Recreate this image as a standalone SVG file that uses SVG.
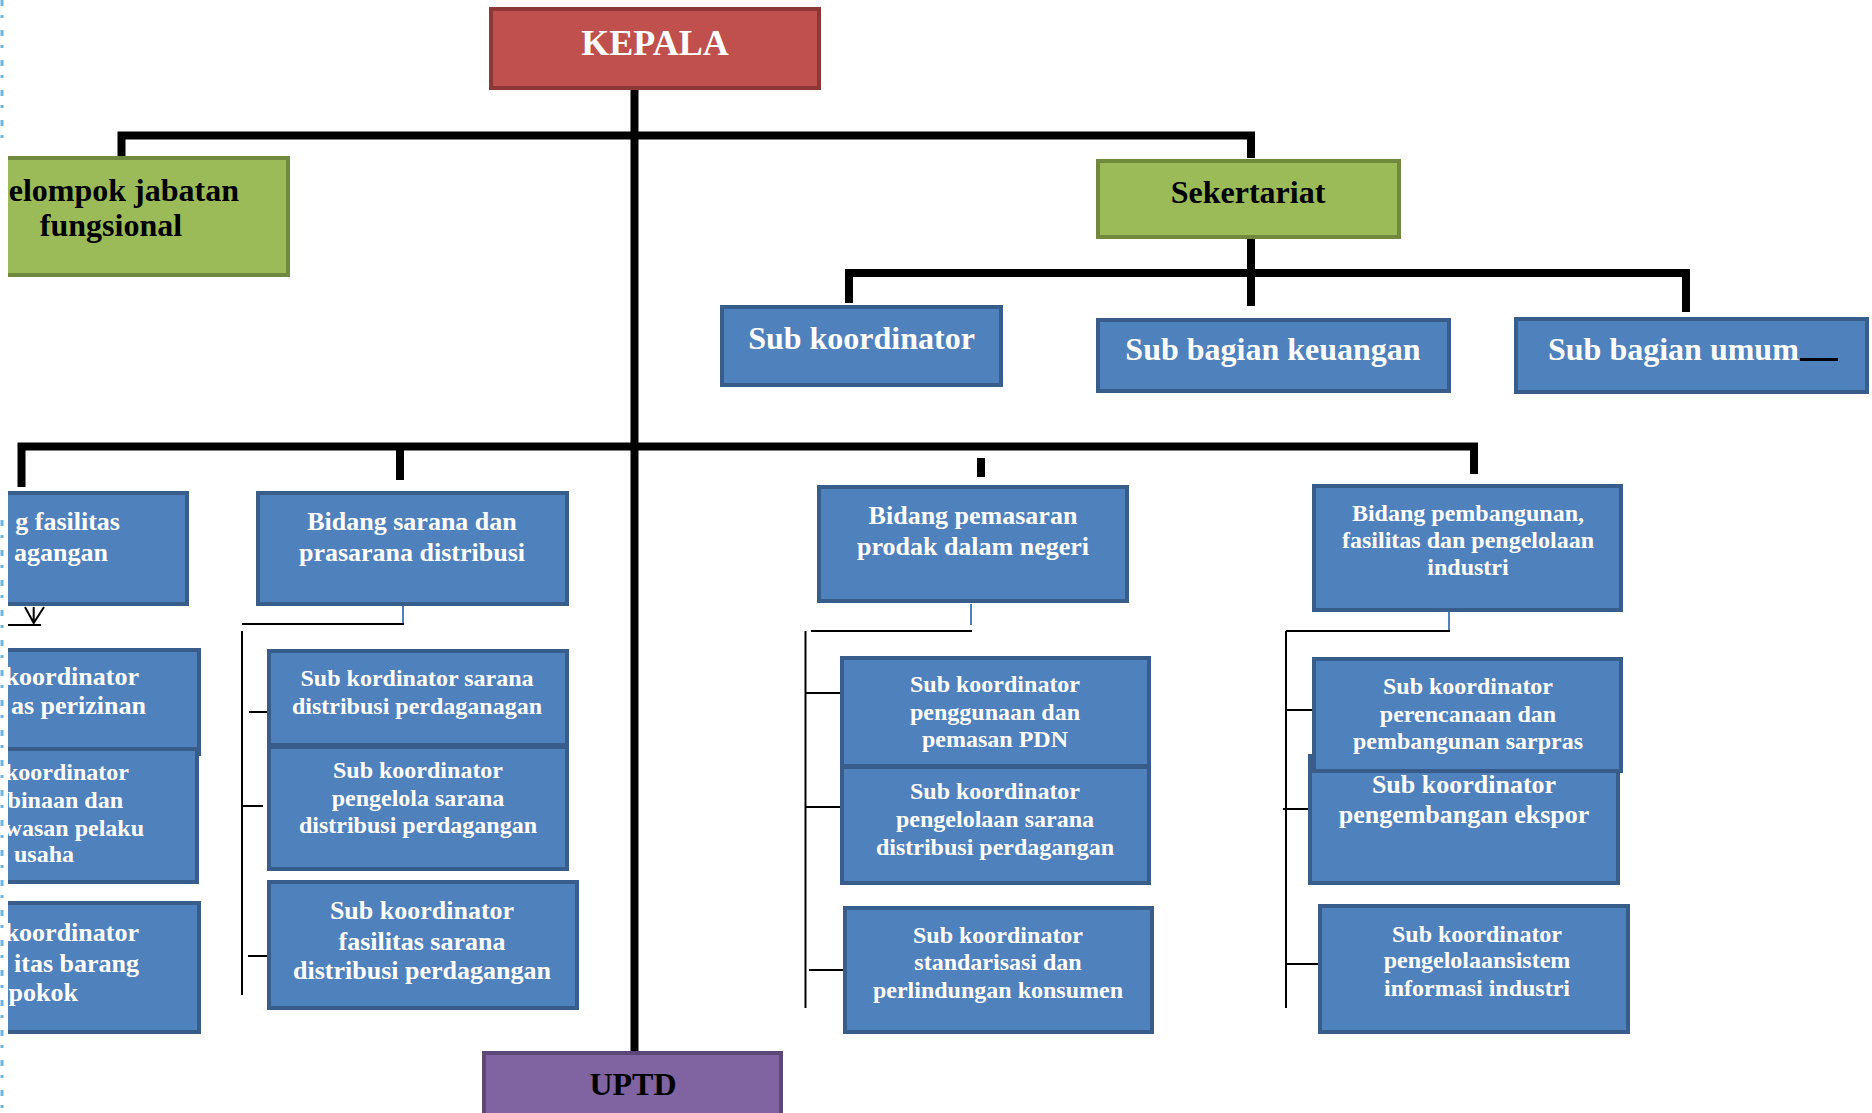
<svg xmlns="http://www.w3.org/2000/svg" width="1872" height="1113" viewBox="0 0 1872 1113">
<style>
.bb{fill:#4f81bd;stroke:#385d8a;stroke-width:4}
.bg{fill:#9bbb59;stroke:#71893f;stroke-width:4}
.br{fill:#c0504d;stroke:#8c3836;stroke-width:4}
.bp{fill:#8064a2;stroke:#5c4776;stroke-width:4}
text{font-family:"Liberation Serif","Times New Roman",serif;font-weight:bold}
.w{fill:#ffffff}
.k{fill:#000000}
.c{text-anchor:middle}
.e{text-anchor:end}
.f36{font-size:36px}
.f32{font-size:32px}
.f26{font-size:26px}
.f24{font-size:24px}
.thick{stroke:#000;stroke-width:8;fill:none;stroke-linejoin:miter;stroke-linecap:butt}
.thin{stroke:#000;stroke-width:2;fill:none}
.blue{stroke:#4f81bd;stroke-width:2;fill:none}
</style>
<defs>
<clipPath id="cut"><rect x="8" y="0" width="1864" height="1113"/></clipPath>
</defs>
<rect x="0" y="0" width="1872" height="1113" fill="#ffffff"/>
<path d="M2,0 V150 M2,520 V1113" stroke="#6ab4e6" stroke-width="3" stroke-dasharray="6 9 3 12" fill="none"/>

<g id="connectors">
<path class="thick" d="M634.5,88 V1052"/>
<path class="thick" d="M121.5,158 V135.5 H1251 V158"/>
<path class="thick" d="M1251,239 V306"/>
<path class="thick" d="M849,303 V273 H1686 V312"/>
<path class="thick" d="M21.5,487 V446.5 H1474 V474"/>
<path class="thick" d="M400,446 V480"/>
<path class="thick" d="M981,458 V477"/>
<g clip-path="url(#cut)">
<path class="thin" d="M25,607 L33.7,623 L44,607 M33.7,607 V623 M8,625 H41"/>
</g>
<path class="blue" d="M403,606 V624"/>
<path class="thin" d="M242,624 H404 M242,631 V995 M249,712 H270 M242,806 H263 M248,956 H274"/>
<path class="blue" d="M971,604 V625"/>
<path class="thin" d="M811,631 H972 M805.5,631 V1008 M805,693 H846 M805,807 H846 M809,970 H850"/>
<path class="blue" d="M1449,610 V631"/>
<path class="thin" d="M1286,631 H1450 M1286,631 V1008 M1286,710 H1327 M1283,809 H1324 M1286,964 H1326"/>
</g>

<g id="kepala">
<rect class="br" x="491" y="9" width="328" height="79"/>
<text class="w c f36" x="655" y="55">KEPALA</text>
</g>

<g id="kelompok" clip-path="url(#cut)">
<rect class="bg" x="-8" y="158" width="296" height="117"/>
<text class="k e f32" x="239" y="201">elompok jabatan</text>
<text class="k c f32" x="111" y="236">fungsional</text>
</g>

<g id="sekertariat">
<rect class="bg" x="1098" y="161" width="301" height="76"/>
<text class="k c f32" x="1248" y="203">Sekertariat</text>
</g>

<g id="sub-koordinator">
<rect class="bb" x="722" y="307" width="279" height="78"/>
<text class="w c f32" x="861.5" y="349">Sub koordinator</text>
</g>

<g id="sub-keuangan">
<rect class="bb" x="1098" y="320" width="351" height="71"/>
<text class="w c f32" x="1273" y="360">Sub bagian keuangan</text>
</g>

<g id="sub-umum">
<rect class="bb" x="1516" y="319" width="351" height="73"/>
<text class="w f32" x="1548" y="360">Sub bagian umum</text>
<path d="M1800,359.5 H1838" stroke="#000" stroke-width="3"/>
</g>

<g id="bidang-fasilitas" clip-path="url(#cut)">
<rect class="bb" x="-98" y="493" width="285" height="111"/>
<text class="w e f26" x="120" y="530">g fasilitas</text>
<text class="w e f26" x="108" y="561">agangan</text>
</g>

<g id="sub-perizinan" clip-path="url(#cut)">
<rect class="bb" x="-98" y="650" width="297" height="104"/>
<text class="w e f26" x="139" y="685">koordinator</text>
<text class="w e f26" x="146" y="714">as perizinan</text>
</g>

<g id="sub-pembinaan" clip-path="url(#cut)">
<rect class="bb" x="-98" y="749" width="295" height="133"/>
<text class="w e f24" x="129" y="780">koordinator</text>
<text class="w e f24" x="123" y="808">binaan dan</text>
<text class="w e f24" x="144" y="835.5">wasan pelaku</text>
<text class="w e f24" x="74" y="862">usaha</text>
</g>

<g id="sub-barang-pokok" clip-path="url(#cut)">
<rect class="bb" x="-98" y="903" width="297" height="129"/>
<text class="w e f26" x="139" y="941">koordinator</text>
<text class="w e f26" x="139" y="972">itas barang</text>
<text class="w e f26" x="78" y="1001">pokok</text>
</g>

<g id="bidang-sarana">
<rect class="bb" x="258" y="493" width="309" height="111"/>
<text class="w c f26" x="412" y="530">Bidang sarana dan</text>
<text class="w c f26" x="412" y="561">prasarana distribusi</text>
</g>

<g id="sub-sarana-1">
<rect class="bb" x="269" y="651" width="298" height="94"/>
<text class="w c f24" x="417" y="686">Sub kordinator sarana</text>
<text class="w c f24" x="417" y="713.5">distribusi perdaganagan</text>
</g>

<g id="sub-sarana-2">
<rect class="bb" x="269" y="747" width="298" height="122"/>
<text class="w c f24" x="418" y="778">Sub koordinator</text>
<text class="w c f24" x="418" y="805.5">pengelola sarana</text>
<text class="w c f24" x="418" y="833">distribusi perdagangan</text>
</g>

<g id="sub-sarana-3">
<rect class="bb" x="269" y="882" width="308" height="126"/>
<text class="w c f26" x="422" y="919">Sub koordinator</text>
<text class="w c f26" x="422" y="950">fasilitas sarana</text>
<text class="w c f26" x="422" y="979">distribusi perdagangan</text>
</g>

<g id="bidang-pemasaran">
<rect class="bb" x="819" y="487" width="308" height="114"/>
<text class="w c f26" x="973" y="524">Bidang pemasaran</text>
<text class="w c f26" x="973" y="555">prodak dalam negeri</text>
</g>

<g id="sub-pemasaran-2">
<rect class="bb" x="842" y="767" width="307" height="116"/>
<text class="w c f24" x="995" y="799">Sub koordinator</text>
<text class="w c f24" x="995" y="827">pengelolaan sarana</text>
<text class="w c f24" x="995" y="854.5">distribusi perdagangan</text>
</g>

<g id="sub-pemasaran-1">
<rect class="bb" x="842" y="658" width="307" height="108"/>
<text class="w c f24" x="995" y="692">Sub koordinator</text>
<text class="w c f24" x="995" y="720">penggunaan dan</text>
<text class="w c f24" x="995" y="747">pemasan PDN</text>
</g>

<g id="sub-pemasaran-3">
<rect class="bb" x="845" y="908" width="307" height="124"/>
<text class="w c f24" x="998" y="943">Sub koordinator</text>
<text class="w c f24" x="998" y="970">standarisasi dan</text>
<text class="w c f24" x="998" y="998">perlindungan konsumen</text>
</g>

<g id="bidang-pembangunan">
<rect class="bb" x="1314" y="486" width="307" height="124"/>
<text class="w c f24" x="1468" y="521">Bidang pembangunan,</text>
<text class="w c f24" x="1468" y="548">fasilitas dan pengelolaan</text>
<text class="w c f24" x="1468" y="575">industri</text>
</g>

<g id="sub-industri-2">
<rect class="bb" x="1310" y="756" width="308" height="127"/>
<text class="w c f26" x="1464" y="792.5">Sub koordinator</text>
<text class="w c f26" x="1464" y="823">pengembangan ekspor</text>
</g>

<g id="sub-industri-1">
<rect class="bb" x="1314" y="659" width="307" height="112"/>
<text class="w c f24" x="1468" y="694">Sub koordinator</text>
<text class="w c f24" x="1468" y="722">perencanaan dan</text>
<text class="w c f24" x="1468" y="749">pembangunan sarpras</text>
</g>

<g id="sub-industri-3">
<rect class="bb" x="1320" y="906" width="308" height="126"/>
<text class="w c f24" x="1477" y="941.5">Sub koordinator</text>
<text class="w c f24" x="1477" y="968">pengelolaansistem</text>
<text class="w c f24" x="1477" y="995.5">informasi industri</text>
</g>

<g id="uptd">
<rect class="bp" x="484" y="1053" width="297" height="70"/>
<text class="k c f32" x="633" y="1095">UPTD</text>
</g>
</svg>
